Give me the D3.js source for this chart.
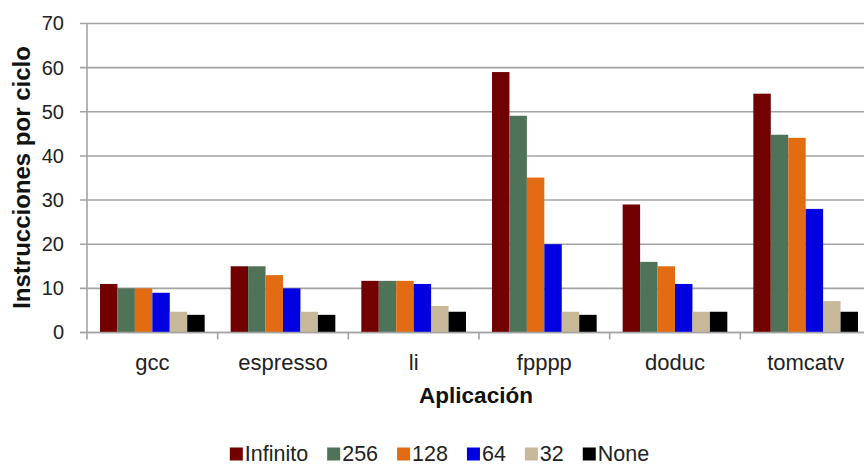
<!DOCTYPE html>
<html>
<head>
<meta charset="utf-8">
<script src="https://cdn.jsdelivr.net/npm/d3@7"></script>
<style>
  html, body { margin: 0; padding: 0; background: #fff; }
  svg { display: block; font-family: "Liberation Sans", Arial, sans-serif; }
</style>
</head>
<body>
<svg id="chart" width="864" height="466"></svg>
<script>
// Applications on the x axis
const categories = ["gcc", "espresso", "li", "fpppp", "doduc", "tomcatv"];
// Window sizes (one bar series each)
const seriesNames = ["Infinito", "256", "128", "64", "32", "None"];
const seriesColors = ["#720000", "#4f7358", "#e36c12", "#0000e0", "#c8b89a", "#000000"];
// Instructions per cycle, per series, in category order
const infinito = [11, 15, 11.7, 59, 29, 54.1];
const w256     = [10, 15, 11.7, 49.1, 16, 44.8];
const w128     = [10, 13, 11.7, 35.1, 15, 44.1];
const w64      = [9, 10, 11, 20, 11, 28];
const w32      = [4.7, 4.7, 6, 4.7, 4.7, 7.1];
const wNone    = [4, 4, 4.7, 4, 4.7, 4.7];
const yTicks = [0, 10, 20, 30, 40, 50, 60, 70];

const seriesValues = [infinito, w256, w128, w64, w32, wNone];

const svg = d3.select("#chart");
const plotLeft = 87, plotRight = 871, plotTop = 23.5, plotBottom = 332.5;

const x = d3.scaleBand().domain(categories).range([plotLeft, plotRight]).padding(0);
const xSub = d3.scaleBand().domain(seriesNames)
  .range([13, x.bandwidth() - 13]).padding(0);
const y = d3.scaleLinear().domain([0, 70]).range([plotBottom, plotTop]);

// Horizontal gridlines (they also form the outer y ticks)
svg.append("g")
  .selectAll("line")
  .data(yTicks)
  .join("line")
  .attr("x1", plotLeft - 7).attr("x2", plotRight)
  .attr("y1", d => y(d)).attr("y2", d => y(d))
  .attr("stroke", "#a3a3a3").attr("stroke-width", 1.6);

// Y axis labels
const yAxis = d3.axisLeft(y).tickValues(yTicks).tickSize(0).tickPadding(0);
const yG = svg.append("g").attr("transform", `translate(${plotLeft - 23},0)`).call(yAxis);
yG.select(".domain").remove();
yG.selectAll("text")
  .attr("font-size", 20).attr("fill", "#222")
  .attr("font-family", "'Liberation Sans', Arial, sans-serif");

// Bars
const groups = svg.append("g")
  .selectAll("g")
  .data(categories)
  .join("g")
  .attr("transform", c => `translate(${x(c)},0)`);

groups.selectAll("rect")
  .data((c, ci) => seriesNames.map((s, si) => ({ s, si, v: seriesValues[si][ci] })))
  .join("rect")
  .attr("x", d => xSub(d.s))
  .attr("width", xSub.bandwidth())
  .attr("y", d => y(d.v))
  .attr("height", d => y(0) - y(d.v))
  .attr("fill", d => seriesColors[d.si]);

// Baseline and y axis line
svg.append("line")
  .attr("x1", plotLeft - 7).attr("x2", plotRight)
  .attr("y1", y(0)).attr("y2", y(0))
  .attr("stroke", "#a3a3a3").attr("stroke-width", 1.6);
svg.append("line")
  .attr("x1", plotLeft).attr("x2", plotLeft)
  .attr("y1", plotTop).attr("y2", y(0) + 7)
  .attr("stroke", "#a3a3a3").attr("stroke-width", 1.6);

// X axis: ticks at category boundaries
const xAxis = d3.axisBottom(x).tickSize(0).tickPadding(0);
const xG = svg.append("g").attr("transform", `translate(0,${y(0)})`).call(xAxis);
xG.select(".domain").remove();
xG.selectAll("text")
  .attr("font-size", 22).attr("fill", "#222")
  .attr("dy", null).attr("y", 37.5)
  .attr("font-family", "'Liberation Sans', Arial, sans-serif");
svg.append("g")
  .selectAll("line")
  .data(categories.slice(1))
  .join("line")
  .attr("x1", c => x(c)).attr("x2", c => x(c))
  .attr("y1", y(0)).attr("y2", y(0) + 7)
  .attr("stroke", "#a3a3a3").attr("stroke-width", 1.6);

// Axis titles
svg.append("text")
  .attr("x", 476).attr("y", 402.5)
  .attr("text-anchor", "middle")
  .attr("font-size", 22.5).attr("font-weight", "bold").attr("fill", "#111")
  .text("Aplicación");

svg.append("text")
  .attr("transform", "translate(30,177.5) rotate(-90)")
  .attr("text-anchor", "middle")
  .attr("font-size", 24).attr("font-weight", "bold").attr("fill", "#111")
  .text("Instrucciones por ciclo");

// Legend
const legend = svg.append("g");
const items = legend.selectAll("g")
  .data(seriesNames)
  .join("g");
items.append("rect")
  .attr("width", 13).attr("height", 13)
  .attr("y", 447.5)
  .attr("fill", (d, i) => seriesColors[i]);
items.append("text")
  .attr("x", 15).attr("y", 461)
  .attr("font-size", 21.5).attr("fill", "#222")
  .text(d => d);

let cursor = 0;
const offsets = [];
items.each(function () {
  const w = d3.select(this).select("text").node().getComputedTextLength();
  offsets.push(cursor);
  cursor += 15 + w + 19;
});
const total = cursor - 19;
const start = 439.5 - total / 2;
items.attr("transform", (d, i) => `translate(${start + offsets[i]},0)`);
</script>
</body>
</html>
